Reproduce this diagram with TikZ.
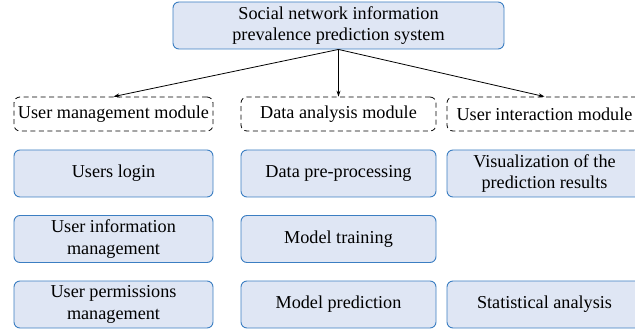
\documentclass[tikz,border=0pt]{standalone}
\usepackage{fontspec}
\setmainfont{Liberation Serif}
\usetikzlibrary{arrows.meta}
\definecolor{boxfill}{HTML}{DFE6F4}
\definecolor{boxline}{HTML}{3B7EC2}
\begin{document}
\begin{tikzpicture}[x=1pt,y=-1pt,
  font=\fontsize{18.2}{21.5}\selectfont,
  bluebox/.style={draw=boxline, fill=boxfill, line width=0.9pt, rounded corners=6pt,
    inner sep=0pt, align=center, minimum height=47pt},
  modbox/.style={draw=black, dashed, dash pattern=on 5pt off 3.5pt, line width=0.8pt,
    rounded corners=6pt, inner sep=0pt, align=center, minimum height=34pt},
  link/.style={-{Stealth[length=6pt,width=4pt]}, line width=0.8pt}]
\useasboundingbox (0,0) rectangle (635,334);
\node[bluebox, minimum width=331pt] (top) at (338.5,25.5) {Social network information\\prevalence prediction system};
\node[modbox, minimum width=199pt] (m1) at (113.5,114) {User management module};
\node[modbox, minimum width=195pt] (m2) at (338.5,114) {Data analysis module};
\node[modbox, minimum width=195pt] (m3) at (544.5,114) {User interaction module};
\node[bluebox, minimum width=199pt] (a1) at (113.5,173.5) {Users login};
\node[bluebox, minimum width=199pt] (a2) at (113.5,239) {User information\\management};
\node[bluebox, minimum width=199pt] (a3) at (113.5,304.5) {User permissions\\management};
\node[bluebox, minimum width=195pt] (b1) at (338.5,173.5) {Data pre-processing};
\node[bluebox, minimum width=195pt] (b2) at (338.5,239) {Model training};
\node[bluebox, minimum width=195pt] (b3) at (338.5,304.5) {Model prediction};
\node[bluebox, minimum width=195pt] (c1) at (544.5,173.5) {Visualization of the\\prediction results};
\node[bluebox, minimum width=195pt] (c3) at (544.5,304.5) {Statistical analysis};
\coordinate (src) at (top.south);
\draw[link] (src) -- (m1.north);
\draw[link] (src) -- (m2.north);
\draw[link] (src) -- (m3.north);
\end{tikzpicture}
\end{document}
